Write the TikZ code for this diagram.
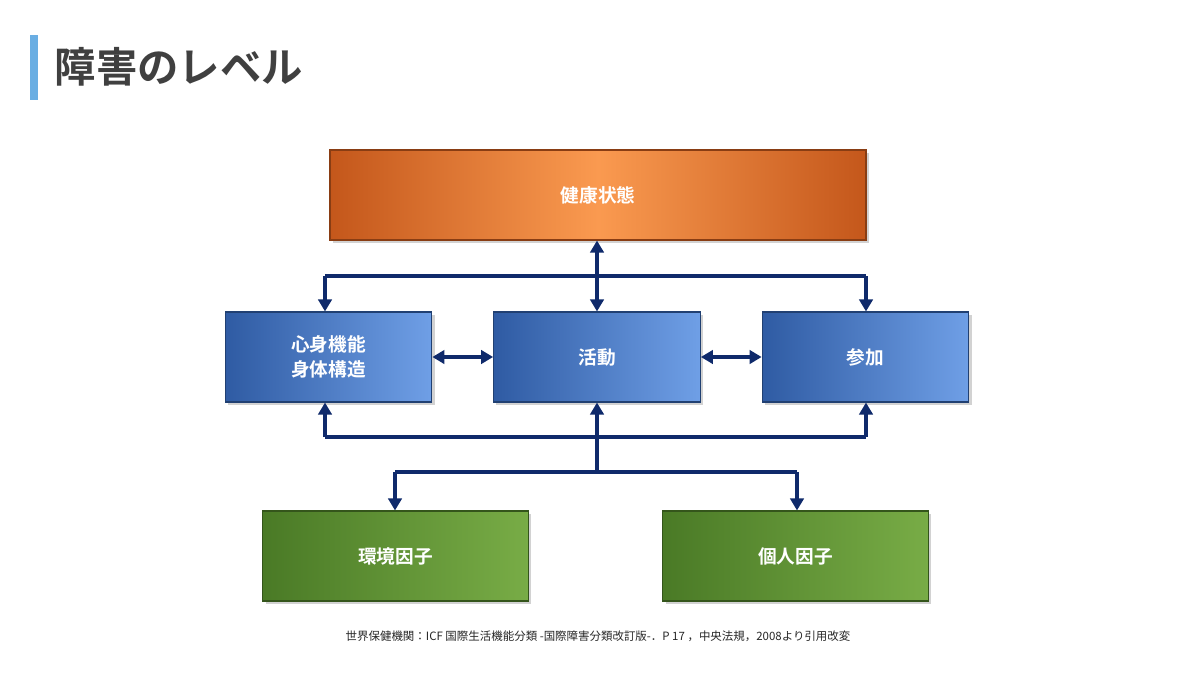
\documentclass[tikz,border=0pt]{standalone}
\usepackage{fontspec}
\setmainfont{Noto Sans CJK JP}
\newfontfamily\jpb{Noto Sans CJK JP Bold}
\usetikzlibrary{arrows.meta,shadows}
\definecolor{navy}{HTML}{0F2A6B}
\definecolor{orD}{HTML}{C4571B}
\definecolor{orL}{HTML}{FA9A50}
\definecolor{blD}{HTML}{2F5BA3}
\definecolor{blL}{HTML}{6F9FE6}
\definecolor{grD}{HTML}{4A7A26}
\definecolor{grL}{HTML}{78AC46}
\tikzset{
  box/.style={line width=0.8pt, minimum height=67.5pt, text=white, font=\jpb\fontsize{14}{19}\selectfont, align=center, drop shadow={opacity=0.35,shadow xshift=2pt,shadow yshift=-2pt}},
  orangebox/.style={box, draw=orD!70!black, left color=orD, right color=orD, middle color=orL, minimum width=402pt},
  bluebox/.style={box, draw=blD!70!black, left color=blD, right color=blL, minimum width=155pt},
  greenbox/.style={box, draw=grD!70!black, left color=grD, right color=grL, minimum width=199pt},
  bus/.style={navy, line width=3pt},
  conn/.style={bus, -{Triangle[length=9pt,width=10pt]}},
  dconn/.style={bus, {Triangle[length=9pt,width=10pt]}-{Triangle[length=9pt,width=10pt]}},
}
\begin{document}
\begin{tikzpicture}[x=0.75pt,y=-0.75pt]
\useasboundingbox (0,0) rectangle (1200,675);
\fill[white] (0,0) rectangle (1200,675);
\fill[cyan!70!blue!60!white] (30,35) rectangle (38,100);
\node[anchor=west, text=black!75, font=\jpb\fontsize{31}{34}\selectfont] (title) at (50,67) {障害のレベル};
\node[orangebox] (health) at (598,195) {健康状態};
\node[bluebox] (body) at (328.5,357) {心身機能\\身体構造};
\node[bluebox] (act) at (597,357) {活動};
\node[bluebox] (part) at (865.5,357) {参加};
\node[greenbox] (env) at (395.5,556) {環境因子};
\node[greenbox] (pers) at (795.5,556) {個人因子};
\coordinate (tl) at (325,276);
\coordinate (tr) at (866,276);
\coordinate (bl) at (325,437);
\coordinate (br) at (866,437);
\coordinate (lm) at (597,472);
\coordinate (ll) at (395,472);
\coordinate (lr) at (797,472);
\draw[dconn] (health.south -| act) -- (act.north);
\draw[bus] (tl) -- (tr);
\draw[conn] (tl) -- (tl |- body.north);
\draw[conn] (tr) -- (tr |- part.north);
\draw[dconn] (body.east) -- (act.west);
\draw[dconn] (act.east) -- (part.west);
\draw[bus] (bl) -- (br);
\draw[conn] (bl) -- (bl |- body.south);
\draw[conn] (br) -- (br |- part.south);
\draw[conn] (lm) -- (act.south);
\draw[bus] (ll) -- (lr);
\draw[conn] (ll) -- (ll |- env.north);
\draw[conn] (lr) -- (lr |- pers.north);
\node[font=\fontsize{8.6}{10}\selectfont, text=black!85] (src) at (598,636) {世界保健機関：ICF 国際生活機能分類 -国際障害分類改訂版-．P 17 ，中央法規，2008より引用改変};
\end{tikzpicture}
\end{document}
